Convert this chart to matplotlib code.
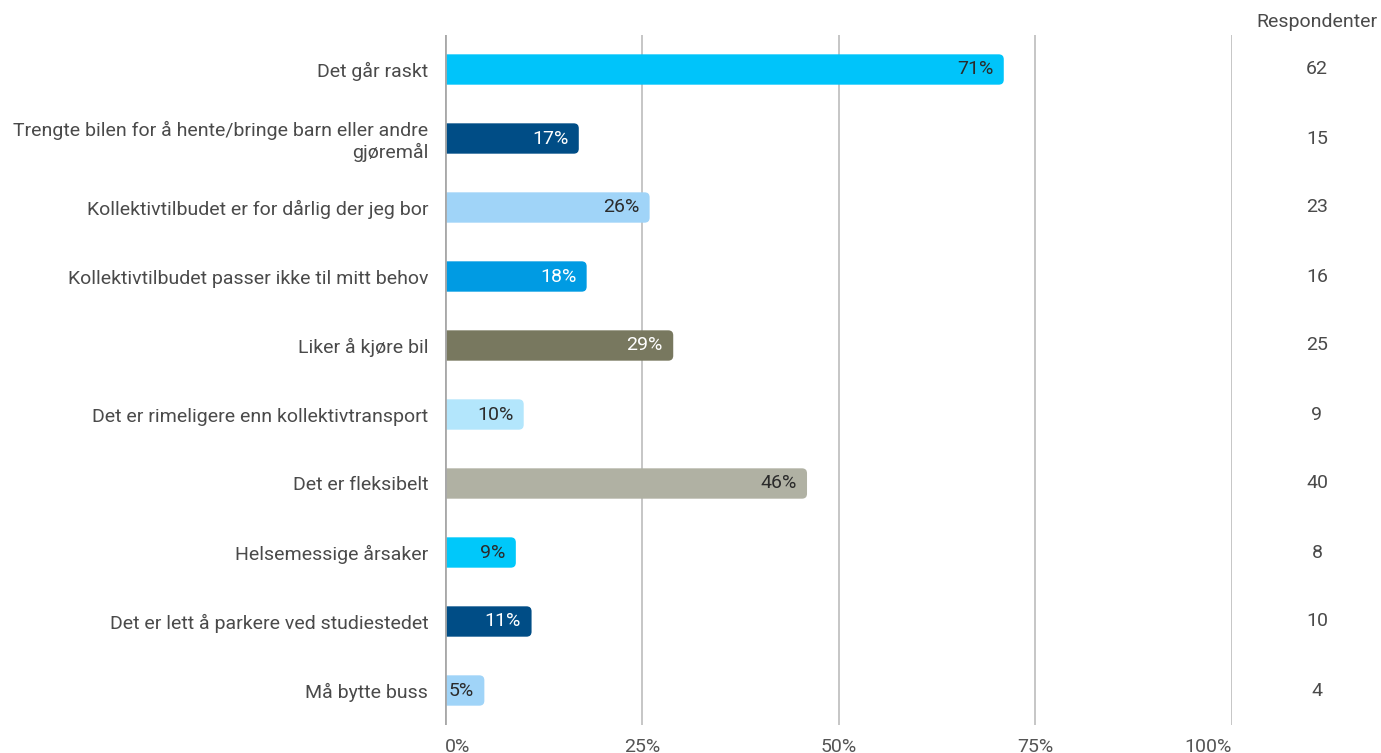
import matplotlib
matplotlib.use("Agg")
import matplotlib.pyplot as plt
from matplotlib.patches import FancyBboxPatch
from matplotlib.transforms import blended_transform_factory

plt.rcParams['font.family'] = ['Roboto', 'DejaVu Sans']

categories = [
    "Det går raskt",
    "Trengte bilen for å hente/bringe barn eller andre\ngjøremål",
    "Kollektivtilbudet er for dårlig der jeg bor",
    "Kollektivtilbudet passer ikke til mitt behov",
    "Liker å kjøre bil",
    "Det er rimeligere enn kollektivtransport",
    "Det er fleksibelt",
    "Helsemessige årsaker",
    "Det er lett å parkere ved studiestedet",
    "Må bytte buss",
]
percent = [71, 17, 26, 18, 29, 10, 46, 9, 11, 5]
respondents = [62, 15, 23, 16, 25, 9, 40, 8, 10, 4]
bar_colors = ["#00c4fa", "#004d86", "#a0d4f8", "#009be3", "#78785f",
              "#b3e6fc", "#b0b1a3", "#00c8fa", "#004d86", "#a0d4f8"]
label_colors = ["#2b2b2b", "white", "#2b2b2b", "white", "white",
                "#2b2b2b", "#2b2b2b", "#2b2b2b", "white", "#2b2b2b"]
xticks = [0, 25, 50, 75, 100]
xtick_labels = ["0%", "25%", "50%", "75%", "100%"]

W, H = 1381, 753
fig = plt.figure(figsize=(W / 100, H / 100), dpi=100)
ax = fig.add_axes([445 / W, 1 - 725 / H, (1232 - 445) / W, (725 - 35) / H])

ax.set_xlim(0, 100)
ax.set_ylim(len(categories) - 0.5, -0.5)

bar_h = 0.44
# rounded corner radius, expressed in x units; mutation_aspect fixes y scaling
px_x = (1232 - 445) / 100.0
px_y = 69.0
r = 5.0 / px_x
aspect = (5.0 / px_y) / r

for i, (v, c) in enumerate(zip(percent, bar_colors)):
    p = FancyBboxPatch((-r * 2, i - bar_h / 2), v + r * 2, bar_h,
                       boxstyle=f"round,pad=0,rounding_size={r}",
                       mutation_aspect=aspect, facecolor=c, edgecolor="none",
                       zorder=2)
    ax.add_patch(p)
    ax.annotate(f"{v}%", xy=(v, i), xytext=(-7.5, 0), textcoords="offset points",
                ha="right", va="center", fontsize=14, color=label_colors[i], zorder=3)

ax.set_xticks(xticks)
ax.set_xticklabels(xtick_labels)
ticklabels = ax.get_xticklabels()
ticklabels[0].set_ha("left")
ticklabels[-1].set_ha("right")
ax.set_yticks(range(len(categories)))
ax.set_yticklabels(categories, fontsize=14, color="#4a4a4a", linespacing=1.15)
ax.tick_params(axis="y", length=0, pad=12)
ax.tick_params(axis="x", length=0, pad=9, labelsize=14, labelcolor="#555555")

ax.grid(axis="x", color="#c6c6c6", linewidth=1.4, zorder=0)
ax.set_axisbelow(True)
for s in ax.spines.values():
    s.set_visible(False)
ax.axvline(0, color="#a8a8a8", linewidth=2, zorder=4)

# respondent counts on the right
trans = blended_transform_factory(fig.transFigure, ax.transData)
col_x = 1317 / W
ax.text(col_x, -0.5 - 13 / px_y, "Respondenter", transform=trans, ha="center",
        va="center", fontsize=14, color="#4a4a4a", clip_on=False)
for i, n in enumerate(respondents):
    ax.text(col_x, i, str(n), transform=trans, ha="center", va="center",
            fontsize=14, color="#4a4a4a", clip_on=False)

fig.savefig("out.png", dpi=100, facecolor="white")
